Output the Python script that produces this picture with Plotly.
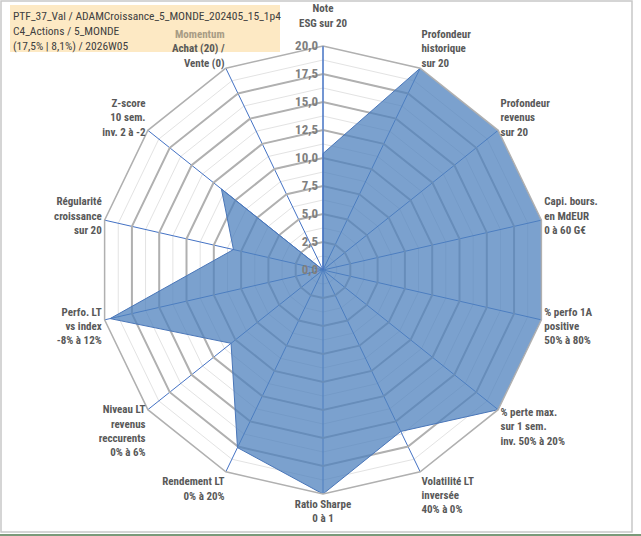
import plotly.graph_objects as go

# axes of the radar, clockwise from the top
labels = [
    "Note<br>ESG sur 20<br> ",
    "Profondeur<br>historique<br>sur 20",
    "Profondeur<br>revenus<br>sur 20",
    "Capi. bours.<br>en MdEUR<br>0 à 60 G€",
    "% perfo 1A<br>positive<br>50% à 80%",
    "% perte max.<br>sur 1 sem.<br>inv. 50% à 20%",
    "Volatilité LT<br>inversée<br>40% à 0%",
    "Ratio Sharpe<br>0 à 1",
    "Rendement LT<br>0% à 20%",
    "Niveau LT<br>revenus<br>reccurents<br>0% à 6%",
    "Perfo. LT<br>vs index<br>-8% à 12%",
    "Régularité<br>croissance<br>sur 20",
    "Z-score<br>10 sem.<br>inv. 2 à -2",
    "<span style='color:#A89C84'>Momentum</span><br>Achat (20) /<br>Vente (0)",
]
scores = [10.4, 20, 20, 20, 20, 20, 16, 20, 17.6, 10.5, 19.5, 8.2, 11.6, 0]

title_lines = [
    "PTF_37_Val / ADAMCroissance_5_MONDE_202405_15_1p4",
    "C4_Actions / 5_MONDE",
    "(17,5% | 8,1%) / 2026W05",
]

FONT = "Liberation Sans Narrow, Roboto Condensed, DejaVu Sans Condensed, Arial Narrow, Roboto, sans-serif"
W, H = 641, 536
R = 224
cx, cy = 323, 266
dom_x = [(cx - R) / W, (cx + R) / W]
dom_y = [(cy - R) / H, (cy + R) / H]

fig = go.Figure()

# background polar: only for the light minor rings
fig.add_trace(go.Scatterpolar(
    r=[0] * len(labels), theta=labels, mode="lines",
    line=dict(width=0), hoverinfo="skip", showlegend=False,
    subplot="polar",
))

fig.add_trace(go.Scatterpolar(
    r=scores + scores[:1],
    theta=labels + labels[:1],
    mode="lines",
    fill="toself",
    fillcolor="rgba(79,129,189,0.75)",
    line=dict(color="#4a76b8", width=1),
    showlegend=False,
    subplot="polar2",
))

common_angular = dict(
    direction="clockwise", rotation=90, type="category",
    categoryarray=labels, ticks="",
)

fig.update_layout(
    width=W, height=H,
    margin=dict(l=0, r=0, t=0, b=0),
    paper_bgcolor="white",
    separators=", ",
    font=dict(family=FONT, size=11, color="#595959"),
    polar=dict(
        domain=dict(x=dom_x, y=dom_y),
        bgcolor="white",
        gridshape="linear",
        radialaxis=dict(range=[0, 20], dtick=1.25, showticklabels=False,
                        showline=False, gridcolor="#e3e3e3", gridwidth=1, ticks=""),
        angularaxis=dict(showticklabels=False, showgrid=False,
                         showline=False, **common_angular),
    ),
    polar2=dict(
        domain=dict(x=dom_x, y=dom_y),
        bgcolor="rgba(0,0,0,0)",
        gridshape="linear",
        radialaxis=dict(
            range=[0, 20], dtick=2.5, tickformat=".1f", angle=90,
            tickangle=90,
            side="counterclockwise", showline=True, linecolor="#4472c4",
            linewidth=1, gridcolor="#b0b0b0", gridwidth=1.5, ticks="",
            tickfont=dict(family=FONT, size=13, color="#7f7f7f", weight="bold"),
            layer="above traces",
        ),
        angularaxis=dict(
            showline=True, linecolor="#b0b0b0", linewidth=1.5,
            gridcolor="#4472c4", gridwidth=1,
            tickfont=dict(family=FONT, size=11, color="#595959", weight="bold"),
            layer="above traces",
            **common_angular,
        ),
    ),
)

# card with the portfolio identification
fig.add_shape(type="rect", xref="paper", yref="paper",
              x0=10 / W, y0=1 - 52 / H, x1=280 / W, y1=1 - 5 / H,
              fillcolor="#fde9c4", line=dict(width=0), layer="below")
fig.add_annotation(
    xref="paper", yref="paper", x=11 / W, y=1 - 7 / H,
    xanchor="left", yanchor="top", align="left",
    text="<br>".join(title_lines),
    showarrow=False,
    font=dict(family=FONT, size=11.5, color="#404040"),
)

# chart frame
fig.add_shape(type="rect", xref="paper", yref="paper",
              x0=1 / W, y0=4 / H, x1=632 / W, y1=1 - 1 / H,
              line=dict(color="#c8c8c8", width=1.5), layer="below")
fig.add_shape(type="line", xref="paper", yref="paper",
              x0=0, y0=1 / H, x1=1, y1=1 / H,
              line=dict(color="#7a9a7a", width=2))

fig.write_html("out.html", config={"displayModeBar": False},
               post_script="document.body.style.margin='0';")
